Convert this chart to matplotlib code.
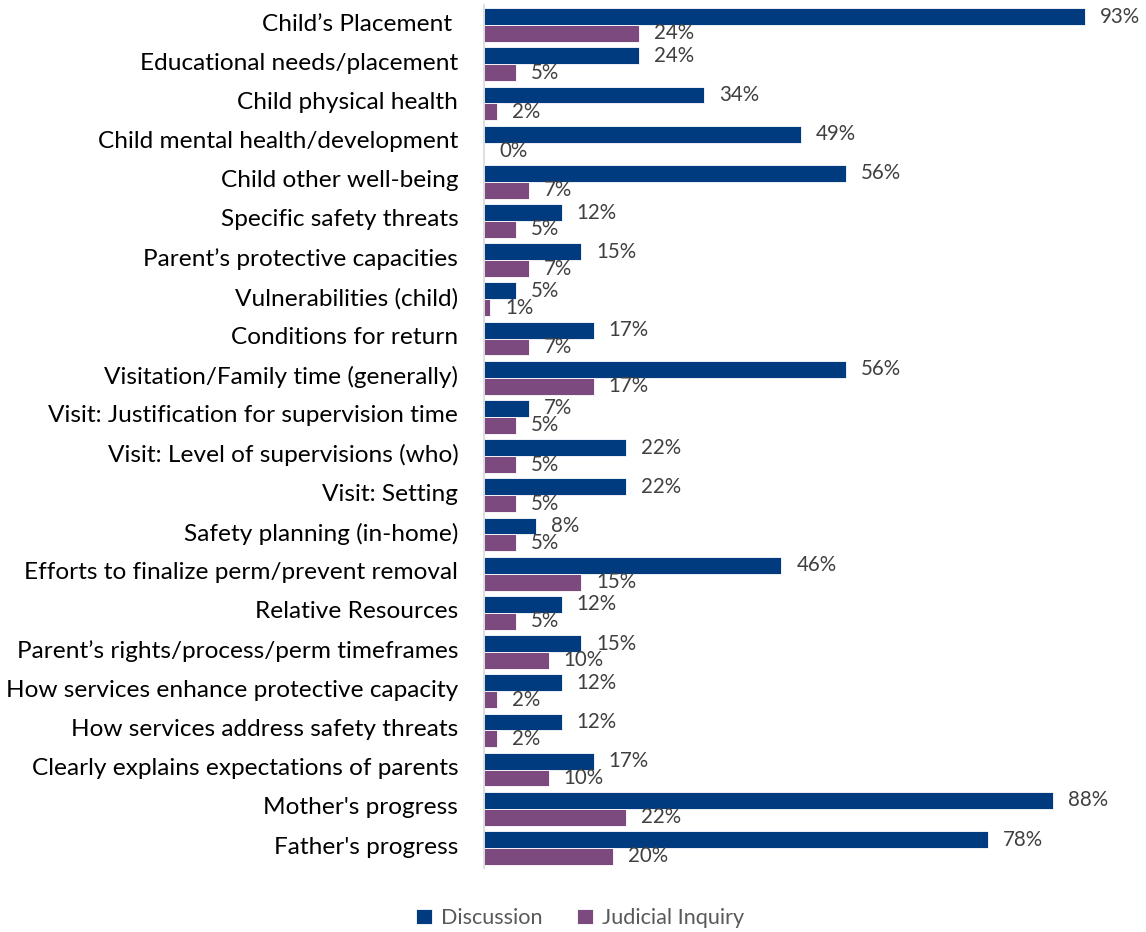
import matplotlib
matplotlib.use("Agg")
import matplotlib.pyplot as plt
import matplotlib.transforms as mtransforms
import numpy as np

categories = [
    "Child’s Placement ",
    "Educational needs/placement",
    "Child physical health",
    "Child mental health/development",
    "Child other well-being",
    "Specific safety threats",
    "Parent’s protective capacities",
    "Vulnerabilities (child)",
    "Conditions for return",
    "Visitation/Family time (generally)",
    "Visit: Justification for supervision time",
    "Visit: Level of supervisions (who)",
    "Visit: Setting",
    "Safety planning (in-home)",
    "Efforts to finalize perm/prevent removal",
    "Relative Resources",
    "Parent’s rights/process/perm timeframes",
    "How services enhance protective capacity",
    "How services address safety threats",
    "Clearly explains expectations of parents",
    "Mother's progress",
    "Father's progress",
]
discussion = [93, 24, 34, 49, 56, 12, 15, 5, 17, 56, 7, 22, 22, 8, 46, 12, 15, 12, 12, 17, 88, 78]
judicial = [24, 5, 2, 0, 7, 5, 7, 1, 7, 17, 5, 5, 5, 5, 15, 5, 10, 2, 2, 10, 22, 20]
series_names = ["Discussion", "Judicial Inquiry"]

navy = "#003B80"
plum = "#7D4A7F"
label_gray = "#404040"

plt.rcParams["font.family"] = ["Lato", "DejaVu Sans"]

fig = plt.figure(figsize=(11.46, 9.32), dpi=100)
ax = fig.add_axes([0.4223, 0.0691, 0.5641, 0.9251])

n = len(categories)
y = np.arange(n)
h = 0.43

b1 = ax.barh(y - h / 2, discussion, height=h, color=navy, edgecolor="white",
             linewidth=0.6, label=series_names[0])
b2 = ax.barh(y + h / 2, judicial, height=h, color=plum, edgecolor="white",
             linewidth=0.6, label=series_names[1])

for bars, vals in ((b1, discussion), (b2, judicial)):
    for rect, v in zip(bars, vals):
        ax.annotate(f"{v}%", xy=(rect.get_width(), rect.get_y() + rect.get_height() / 2),
                    xytext=(15, 0), textcoords="offset pixels",
                    ha="left", va="center", fontsize=14.8, color=label_gray)

ax.set_xlim(0, 100)
ax.set_ylim(n - 0.5, -0.5)
ax.set_yticks(y)
ax.set_yticklabels(categories, fontsize=17.6, color="black")
ax.tick_params(axis="y", length=0, pad=18.5)
ax.set_xticks([])
# nudge category labels up slightly
lift = mtransforms.ScaledTranslation(0, 3 / 100, fig.dpi_scale_trans)
for lbl in ax.get_yticklabels():
    lbl.set_transform(lbl.get_transform() + lift)
for side in ("top", "right", "bottom"):
    ax.spines[side].set_visible(False)
ax.spines["left"].set_color("#D9D9D9")
ax.spines["left"].set_linewidth(1.2)

fig.legend(handles=[b1, b2], labels=series_names, loc="center",
           bbox_to_anchor=(580 / 1146, 1 - 918 / 932), ncol=2, frameon=False,
           fontsize=15.6, labelcolor="#595959", handlelength=0.75, handleheight=0.75,
           handletextpad=0.4, columnspacing=1.6)

fig.savefig("out.png", dpi=100)
